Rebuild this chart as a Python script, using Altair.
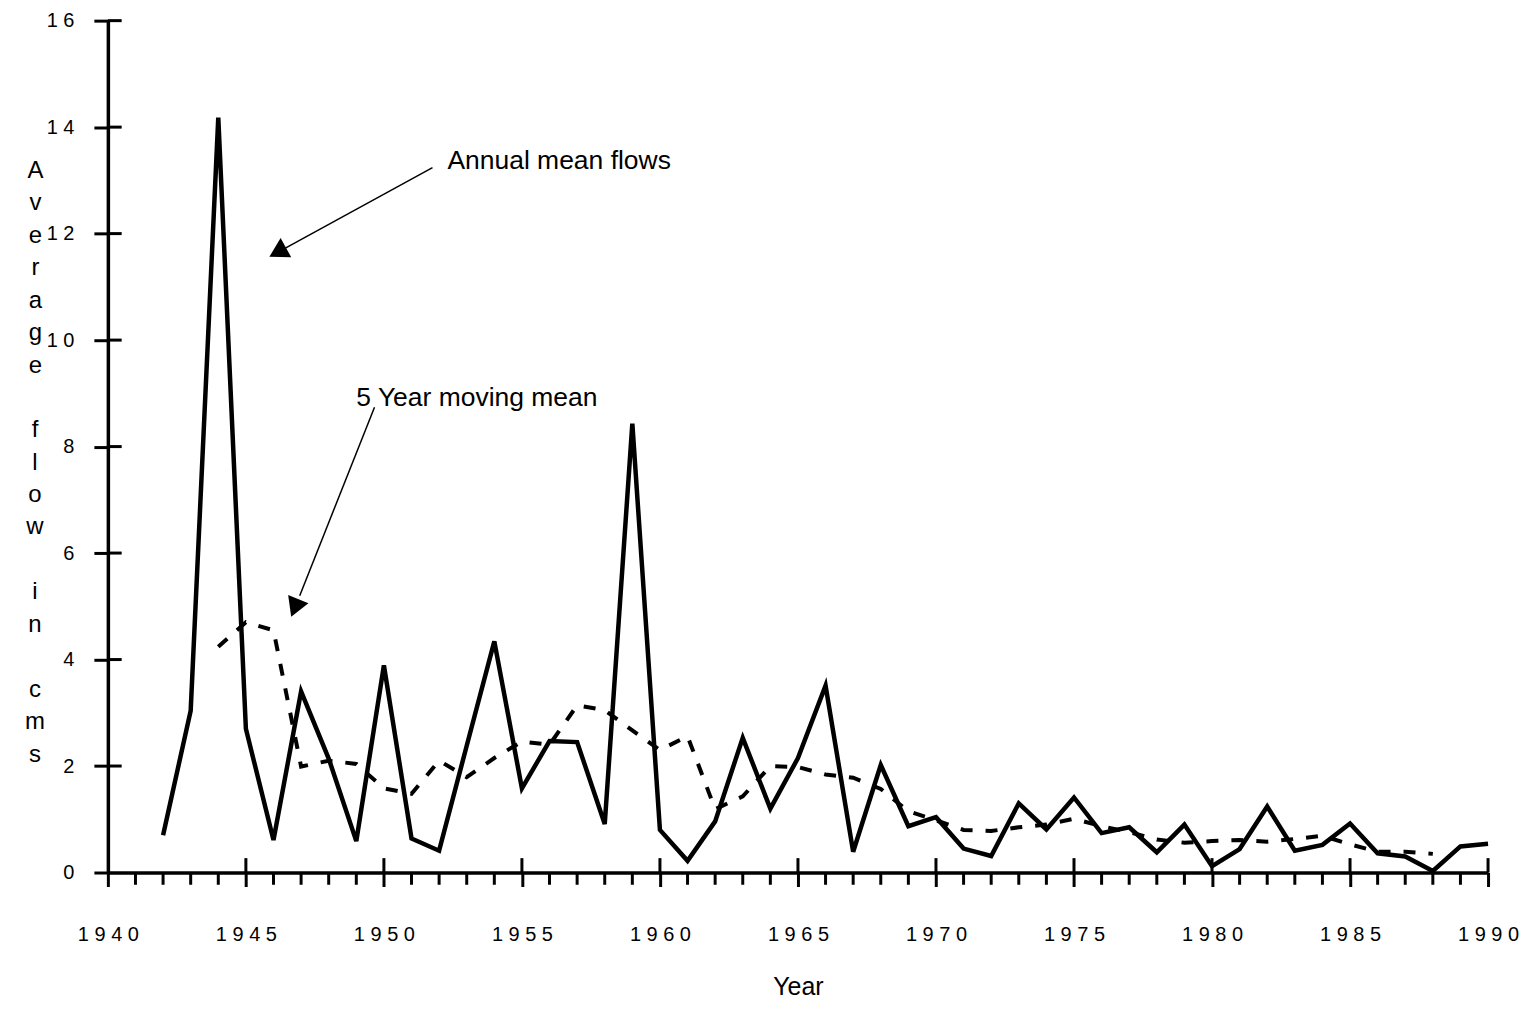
import altair as alt
import pandas as pd

FONT = "Liberation Sans"

# ---- data ----
YEARS = list(range(1942, 1991))
ANNUAL_FLOW = [0.70, 3.04, 14.18, 2.70, 0.61, 3.40, 2.14, 0.59, 3.89, 0.64,
               0.41, 2.38, 4.34, 1.58, 2.47, 2.45, 0.91, 8.43, 0.80, 0.22,
               0.96, 2.53, 1.20, 2.15, 3.51, 0.39, 2.02, 0.87, 1.04, 0.45,
               0.31, 1.30, 0.81, 1.41, 0.74, 0.85, 0.38, 0.90, 0.12, 0.44,
               1.24, 0.41, 0.52, 0.92, 0.36, 0.30, 0.03, 0.49, 0.54]

MA_YEARS = list(range(1944, 1989))
MOVING_MEAN = [4.24, 4.70, 4.55, 1.99, 2.10, 2.04, 1.58, 1.48, 2.10, 1.79,
               2.15, 2.46, 2.40, 3.14, 3.05, 2.67, 2.30, 2.56, 1.19, 1.43,
               2.00, 1.98, 1.84, 1.78, 1.57, 1.15, 0.98, 0.80, 0.78, 0.85,
               0.90, 1.01, 0.87, 0.76, 0.62, 0.56, 0.59, 0.61, 0.58, 0.63,
               0.69, 0.53, 0.39, 0.39, 0.35]

X_LABEL_TICKS = list(range(1940, 1991, 5))
MAJOR_X = list(range(1945, 1991, 5))
MINOR_X = [y for y in range(1941, 1990) if y % 5 != 0]
Y_TICKS = list(range(0, 17, 2))

# y-axis title, written one letter per line ("Average" / "flow" / "in" / "cms")
Y_TITLE = ["A", "v", "e", "r", "a", "g", "e"]
TITLE_WORDS = ["f\nl\no\nw", "i\nn", "c\nm\ns"]
TITLE_WORD_X = [1937.36, 1937.36, 1937.36]
TITLE_WORD_Y = [8.535, 5.487, 3.658]

ANNOT_TEXT = ["Annual mean flows", "5 Year moving mean"]
ANNOT_X = [1952.3, 1949.0]
ANNOT_Y = [13.37, 8.91]
ARROW_X = [1951.76, 1949.66]
ARROW_Y = [13.24, 8.74]
ARROW_X2 = [1946.05, 1946.95]
ARROW_Y2 = [11.62, 5.20]
HEAD_X = [1946.15, 1946.77]
HEAD_Y = [11.65, 4.97]
HEAD_ANGLE = [241, 202]

# ---- tables ----
annual_df = pd.DataFrame({"year": YEARS, "value": ANNUAL_FLOW})
ma_df = pd.DataFrame({"year": MA_YEARS, "value": MOVING_MEAN})
major_df = pd.DataFrame({"year": MAJOR_X})
minor_df = pd.DataFrame({"year": MINOR_X})
ytick_df = pd.DataFrame({"value": Y_TICKS[1:]})
text_df = pd.DataFrame({"year": ANNOT_X, "value": ANNOT_Y, "label": ANNOT_TEXT})
word_df = pd.DataFrame({"year": TITLE_WORD_X, "value": TITLE_WORD_Y, "label": TITLE_WORDS})
arrow_df = pd.DataFrame({"year": ARROW_X, "value": ARROW_Y,
                         "year2": ARROW_X2, "value2": ARROW_Y2})
head_df = pd.DataFrame({"year": HEAD_X, "value": HEAD_Y, "angle": HEAD_ANGLE})

xs = alt.Scale(domain=[1940, 1990], nice=False, zero=False)
ys = alt.Scale(domain=[0, 16], nice=False)

x_axis = alt.Axis(
    values=X_LABEL_TICKS, format="d", grid=False,
    domainColor="black", domainWidth=3.5,
    tickColor="black", tickWidth=3, tickSize=14,
    labelExpr="join(split(datum.label, ''), ' ')",
    labelFont=FONT, labelFontSize=20, labelColor="black", labelPadding=38,
    labelFlush=False, labelOverlap=False,
    title="Year", titleFont=FONT, titleFontSize=25, titleFontWeight="normal",
    titleColor="black", titleY=114, titleBaseline="middle",
)
y_axis = alt.Axis(
    values=Y_TICKS, grid=False,
    domainColor="black", domainWidth=3.5,
    tickColor="black", tickWidth=3, tickSize=14,
    labelExpr="join(split(datum.label, ''), ' ')",
    labelFont=FONT, labelFontSize=20, labelColor="black", labelPadding=20,
    labelFlush=False, labelOverlap=False,
    title=Y_TITLE, titleAngle=0, titleX=-73, titleY=138, titleBaseline="top",
    titleAlign="center", titleLineHeight=32.5, titleFont=FONT,
    titleFontSize=24, titleFontWeight="normal", titleColor="black",
)

X = alt.X("year:Q", scale=xs, axis=x_axis)
Y = alt.Y("value:Q", scale=ys, axis=y_axis)
Xp = alt.X("year:Q", scale=xs)
Yp = alt.Y("value:Q", scale=ys)

annual = alt.Chart(annual_df).mark_line(color="black", strokeWidth=4.5).encode(x=X, y=Y)
moving = alt.Chart(ma_df).mark_line(
    color="black", strokeWidth=4, strokeDash=[12, 13], strokeCap="butt"
).encode(x=Xp, y=Yp)

major_ticks = alt.Chart(major_df).mark_rule(color="black", strokeWidth=3).encode(
    x=Xp, y=alt.datum(0), y2=alt.datum(0.27)
)
minor_ticks = alt.Chart(minor_df).mark_rule(color="black", strokeWidth=3).encode(
    x=Xp, y=alt.datum(-0.23), y2=alt.datum(0)
)
y_inner_ticks = alt.Chart(ytick_df).mark_rule(color="black", strokeWidth=3).encode(
    y=Yp, x=alt.datum(1940), x2=alt.datum(1940.5)
)

labels = alt.Chart(text_df).mark_text(
    align="left", baseline="middle", font=FONT, fontSize=26.5, color="black"
).encode(x=Xp, y=Yp, text="label:N")

title_words = alt.Chart(word_df).mark_text(
    align="center", baseline="top", font=FONT, fontSize=24, color="black",
    lineBreak="\n", lineHeight=32.5
).encode(x=Xp, y=Yp, text="label:N")

arrows = alt.Chart(arrow_df).mark_rule(color="black", strokeWidth=1.5).encode(
    x=Xp, y=Yp, x2="year2:Q", y2="value2:Q"
)
heads = alt.Chart(head_df).mark_point(
    shape="triangle-up", filled=True, size=480, color="black", opacity=1
).encode(x=Xp, y=Yp, angle=alt.Angle("angle:Q", scale=None))

chart = alt.layer(
    annual, moving, major_ticks, minor_ticks, y_inner_ticks, arrows, heads,
    labels, title_words
).properties(
    width=1382, height=853,
    autosize=alt.AutoSizeParams(type="none"),
    padding={"left": 100, "top": 12, "right": 35, "bottom": 130},
    background="white",
).configure_view(stroke=None)

chart.save("out.html", embed_options={"renderer": "svg", "actions": False})
